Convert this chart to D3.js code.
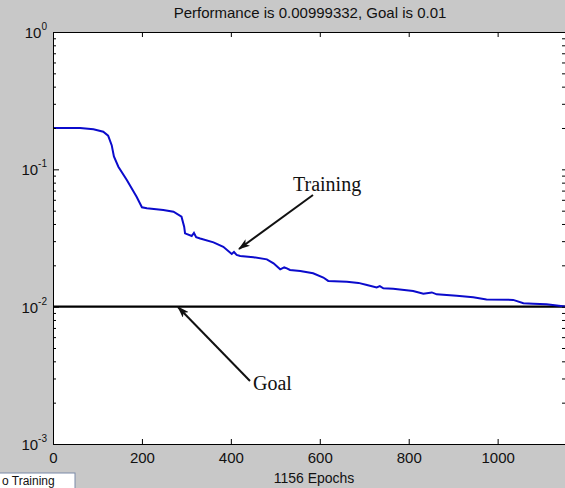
<!DOCTYPE html>
<html>
<head>
<meta charset="utf-8">
<script src="https://cdn.jsdelivr.net/npm/d3@7"></script>
<style>
  body { margin: 0; background: #c8c8c8; }
  svg { display: block; }
  .axis path, .axis line { stroke: #000; }
  .axis text { font-family: "Liberation Sans", Arial, sans-serif; font-size: 15px; fill: #111; }
</style>
</head>
<body>
<svg id="chart" width="565" height="488"></svg>
<script>
// training record (epoch, performance)
const epochs = [0, 61, 91, 113, 124, 132, 137, 147, 166, 188, 200, 211, 248, 271, 289, 295, 297, 312, 317, 322, 331,
  361, 383, 402, 407, 413, 421, 451, 481, 496, 511, 520, 526, 533, 556, 585, 608, 619, 661, 687, 706, 728, 735,
  743, 765, 810, 833, 852, 863, 908, 945, 975, 1035, 1058, 1080, 1110, 1156];
const perf = [0.200, 0.200, 0.196, 0.188, 0.176, 0.150, 0.124, 0.1045, 0.0836, 0.0631, 0.0529, 0.0520, 0.0505, 0.0491,
  0.0452, 0.0382, 0.0342, 0.0327, 0.0344, 0.0321, 0.0314, 0.0294, 0.0273, 0.0242, 0.0250, 0.0238, 0.0234, 0.0229,
  0.0221, 0.0207, 0.0187, 0.0193, 0.0190, 0.0185, 0.0182, 0.0175, 0.0163, 0.0154, 0.0152, 0.0149, 0.0144, 0.0138,
  0.0141, 0.0136, 0.0135, 0.0130, 0.0124, 0.0127, 0.0123, 0.0120, 0.0117, 0.0113, 0.0112, 0.0106, 0.0105, 0.0104,
  0.00999332];
const goal = 0.01;
const totalEpochs = 1156;

const xTicks = [0, 200, 400, 600, 800, 1000];
const yMajor = [1, 0.1, 0.01, 0.001];
const yMinor = [];
[0.001, 0.01, 0.1].forEach(d => { for (let k = 2; k <= 9; k++) yMinor.push(d * k); });

const title = "Performance is 0.00999332, Goal is 0.01";
const xLabel = "1156 Epochs";

const L = 53, R = 567, T = 32, B = 444;

const svg = d3.select("svg#chart");

const x = d3.scaleLinear().domain([0, totalEpochs]).range([L, R]);
const y = d3.scaleLog().domain([0.001, 1]).range([B, T]);

svg.append("rect").attr("width", 565).attr("height", 488).attr("fill", "#c8c8c8");
svg.append("rect")
  .attr("x", L).attr("y", T)
  .attr("width", R - L).attr("height", B - T)
  .attr("fill", "#fff");

svg.append("clipPath").attr("id", "plot")
  .append("rect").attr("x", L).attr("y", T).attr("width", R - L).attr("height", B - T);

// goal line
svg.append("line")
  .attr("x1", L).attr("x2", R)
  .attr("y1", y(goal)).attr("y2", y(goal))
  .attr("stroke", "#000").attr("stroke-width", 2.2);

// training curve
const line = d3.line()
  .x((d, i) => x(epochs[i]))
  .y(d => y(d));

svg.append("path")
  .datum(perf)
  .attr("clip-path", "url(#plot)")
  .attr("d", line)
  .attr("fill", "none")
  .attr("stroke", "#0b0bcc")
  .attr("stroke-width", 2);

// axes
svg.append("g").attr("class", "axis")
  .attr("transform", `translate(0,${B})`)
  .call(d3.axisBottom(x).tickValues(xTicks).tickSizeInner(-5).tickSizeOuter(0).tickPadding(8).tickFormat(d3.format("d")));

svg.append("g").attr("class", "axis")
  .attr("transform", `translate(0,${T})`)
  .call(d3.axisTop(x).tickValues(xTicks).tickSizeInner(-5).tickSizeOuter(0).tickFormat(""));

svg.append("g").attr("class", "axis")
  .attr("transform", `translate(${L},0)`)
  .call(d3.axisLeft(y).tickValues(yMajor).tickSizeInner(-6).tickSizeOuter(0).tickFormat(""));

svg.append("g").attr("class", "axis")
  .attr("transform", `translate(${L},0)`)
  .call(d3.axisLeft(y).tickValues(yMinor).tickSizeInner(-3).tickSizeOuter(0).tickFormat(""));

svg.append("g").attr("class", "axis")
  .attr("transform", `translate(${R - 2},0)`)
  .call(d3.axisRight(y).tickValues(yMajor.concat(yMinor)).tickSizeInner(-3).tickSizeOuter(0).tickFormat(""));

// y labels as 10^n
const yl = svg.append("g")
  .attr("font-family", "Liberation Sans, Arial, sans-serif")
  .attr("fill", "#111");
yMajor.forEach(v => {
  const t = yl.append("text")
    .attr("x", 47).attr("y", y(v) + 6)
    .attr("text-anchor", "end");
  t.append("tspan").attr("font-size", 15).text("10");
  t.append("tspan").attr("font-size", 10).attr("dy", -8).text(Math.round(Math.log10(v)));
});

// title and x label
svg.append("text")
  .attr("x", 310).attr("y", 18)
  .attr("text-anchor", "middle")
  .attr("font-family", "Liberation Sans, Arial, sans-serif")
  .attr("font-size", 15)
  .attr("fill", "#111")
  .text(title);

svg.append("text")
  .attr("x", 314).attr("y", 483)
  .attr("text-anchor", "middle")
  .attr("font-family", "Liberation Sans, Arial, sans-serif")
  .attr("font-size", 14)
  .attr("fill", "#111")
  .text(xLabel);

// annotations
svg.append("defs").append("marker")
  .attr("id", "head")
  .attr("viewBox", "0 0 12 8")
  .attr("refX", 11).attr("refY", 4)
  .attr("markerWidth", 12).attr("markerHeight", 8)
  .attr("markerUnits", "userSpaceOnUse")
  .attr("orient", "auto")
  .append("path")
  .attr("d", "M0,0 L12,4 L0,8 L3,4 Z")
  .attr("fill", "#111");

function arrow(x1, y1, x2, y2) {
  svg.append("line")
    .attr("x1", x1).attr("y1", y1).attr("x2", x2).attr("y2", y2)
    .attr("stroke", "#111").attr("stroke-width", 2)
    .attr("marker-end", "url(#head)");
}

arrow(313, 195, 239, 249);
arrow(250, 381, 178, 307);

const notes = [
  { text: "Training", x: 293, y: 191 },
  { text: "Goal", x: 253, y: 390 }
];
svg.selectAll("text.note")
  .data(notes)
  .enter()
  .append("text")
  .attr("class", "note")
  .attr("x", d => d.x).attr("y", d => d.y)
  .attr("font-family", "Liberation Serif, Times New Roman, serif")
  .attr("font-size", 20)
  .attr("fill", "#111")
  .text(d => d.text);

// the cut off "Stop Training" button
svg.append("rect")
  .attr("x", -3).attr("y", 473)
  .attr("width", 78).attr("height", 18)
  .attr("fill", "#fff")
  .attr("stroke", "#7a8aa8");
svg.append("text")
  .attr("x", 2).attr("y", 485)
  .attr("font-family", "Liberation Sans, Arial, sans-serif")
  .attr("font-size", 12)
  .attr("fill", "#111")
  .text("o Training");
</script>
</body>
</html>
